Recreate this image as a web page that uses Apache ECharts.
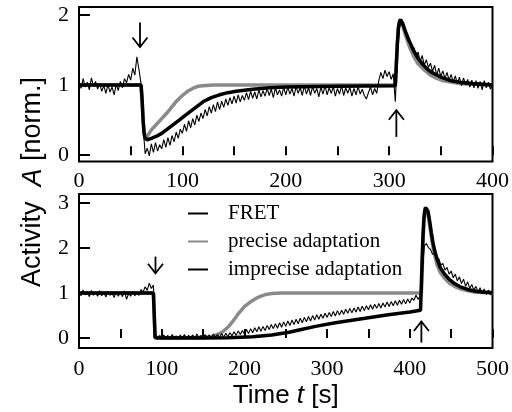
<!DOCTYPE html>
<html><head><meta charset="utf-8">
<script src="https://cdn.jsdelivr.net/npm/echarts@6/dist/echarts.min.js"></script>
<style>html,body{margin:0;padding:0;background:#fff}#c{width:512px;height:412px}</style>
</head><body><div id="c"></div>
<script>
// ---------- data ----------
const fretTopStep = 2; // seconds between FRET samples (top)
const fretTop = [
1.06,0.95,1.09,0.97,1.04,0.93,1.10,0.98,1.05,0.94,
1.02,0.91,0.99,0.88,1.00,0.90,0.97,0.86,1.01,0.92,
1.05,0.96,1.09,1.03,1.15,1.07,1.24,1.14,1.40,1.22,
1.02,0.40,0.02,0.10,-0.01,0.16,0.04,0.18,0.06,0.15,
0.09,0.22,0.11,0.25,0.14,0.28,0.19,0.33,0.24,0.37,
0.31,0.44,0.34,0.49,0.39,0.52,0.43,0.57,0.48,0.60,
0.52,0.65,0.56,0.69,0.60,0.72,0.62,0.76,0.65,0.77,
0.68,0.80,0.71,0.82,0.73,0.84,0.74,0.86,0.76,0.85,
0.78,0.89,0.79,0.91,0.81,0.90,0.80,0.93,0.83,0.92,
0.84,0.95,0.85,0.94,0.82,0.96,0.86,0.93,0.84,0.97,
0.86,0.97,0.87,0.95,0.84,0.98,0.88,0.96,0.85,0.99,
0.87,0.96,0.85,0.98,0.88,0.95,0.83,0.97,0.87,0.99,
0.86,0.96,0.88,0.98,0.84,0.95,0.87,0.99,0.85,0.96,
0.88,0.97,0.84,0.95,0.86,0.98,0.87,0.94,0.85,0.80,
0.89,0.97,0.86,0.95,0.88,1.06,1.18,1.09,1.21,1.12,
1.19,1.08,1.16,0.76,1.45,1.82,1.90,1.82,1.74,1.63,
1.60,1.50,1.53,1.41,1.47,1.33,1.42,1.28,1.36,1.25,
1.31,1.19,1.28,1.14,1.24,1.12,1.20,1.09,1.18,1.07,
1.15,1.04,1.13,1.02,1.11,0.99,1.10,1.00,1.08,0.97,
1.07,0.96,1.06,0.95,1.05,0.93,1.06,0.96,1.04,0.94,
1.01];
const preciseTopT = [0,60,61,62,63,64,66,70,75,80,85,90,95,100,105,110,115,120,130,140,306,307,308,309,310,311,312,313,316,320,324,328,332,336,340,345,352,360,368,380,400];
const preciseTopA = [1,1,0.8,0.5,0.33,0.27,0.27,0.36,0.44,0.52,0.6,0.69,0.78,0.85,0.91,0.95,0.98,0.99,1.0,1.0,1.0,1.3,1.6,1.8,1.9,1.93,1.91,1.85,1.7,1.53,1.4,1.3,1.24,1.19,1.14,1.1,1.06,1.04,1.02,1.01,1.0];
const impreciseTopT = [0,60,61,62,63,64,66,70,75,80,88,96,104,112,120,128,136,144,152,168,185,200,250,306,307,308,309,310,311,312,313,316,320,324,328,332,336,340,345,352,360,368,380,400];
const impreciseTopA = [1,1,0.8,0.5,0.3,0.24,0.22,0.24,0.27,0.31,0.4,0.49,0.58,0.67,0.76,0.82,0.86,0.89,0.91,0.94,0.96,0.97,0.98,0.99,1.3,1.6,1.82,1.9,1.93,1.93,1.88,1.75,1.61,1.48,1.38,1.3,1.24,1.19,1.15,1.1,1.06,1.04,1.02,1.0];

const fretBottomStep = 2.5; // seconds between FRET samples (bottom)
const fretBottom = [
1.04,0.94,1.07,0.96,1.03,0.92,1.06,0.95,1.02,0.93,
1.05,0.94,1.01,0.91,1.04,0.95,1.00,0.90,1.03,0.93,
1.02,0.92,1.05,0.86,0.99,0.93,1.04,0.94,1.01,0.95,
1.08,1.02,1.14,1.06,1.22,1.10,1.18,0.08,-0.03,0.06,
-0.02,0.07,0.00,0.06,-0.03,0.08,0.01,0.05,-0.02,0.07,
0.00,0.08,-0.02,0.06,0.01,0.07,-0.01,0.09,0.02,0.06,
-0.01,0.08,0.02,0.07,0.00,0.09,0.02,0.08,0.01,0.10,
0.02,0.11,0.03,0.12,0.05,0.14,0.06,0.16,0.08,0.17,
0.09,0.19,0.10,0.21,0.12,0.23,0.14,0.25,0.15,0.26,
0.17,0.28,0.19,0.30,0.21,0.32,0.22,0.34,0.24,0.36,
0.26,0.38,0.28,0.40,0.30,0.42,0.32,0.44,0.34,0.46,
0.36,0.48,0.38,0.50,0.40,0.52,0.42,0.53,0.44,0.55,
0.46,0.57,0.48,0.59,0.49,0.61,0.51,0.62,0.53,0.64,
0.55,0.66,0.56,0.67,0.58,0.69,0.59,0.71,0.61,0.72,
0.63,0.74,0.64,0.75,0.66,0.77,0.67,0.78,0.69,0.80,
0.70,0.81,0.72,0.83,0.73,0.84,0.75,0.86,0.76,0.87,
0.78,0.89,0.84,0.95,0.86,0.93,1.35,2.05,2.10,2.01,
1.97,1.86,1.88,1.74,1.77,1.62,1.66,1.51,1.57,1.42,
1.49,1.34,1.42,1.27,1.36,1.21,1.31,1.15,1.25,1.10,
1.19,1.06,1.15,1.02,1.12,0.99,1.09,0.97,1.07,0.96,
1.02];
const preciseBottomT = [0,90,91,92,100,150,160,166,173,180,186,193,200,207,214,220,226,233,245,414,415,416,417,418,419,420,421,422,424,426,428,430,433,437,442,448,455,462,470,480,490,500];
const preciseBottomA = [1,1,0.5,0.02,0.01,0.01,0.03,0.07,0.13,0.24,0.37,0.55,0.7,0.8,0.88,0.93,0.97,0.99,1.0,1.0,1.5,2.1,2.55,2.8,2.88,2.89,2.85,2.75,2.5,2.25,2.02,1.85,1.62,1.45,1.33,1.22,1.14,1.09,1.05,1.02,1.01,1.0];
const impreciseBottomT = [0,90,91,92,100,150,180,210,233,254,266,286,310,346,374,400,413,414,415,416,417,418,419,420,421,422,424,426,428,430,433,437,442,448,455,462,470,480,490,500];
const impreciseBottomA = [1,1,0.5,0.01,0.0,0.0,0.01,0.03,0.07,0.13,0.18,0.26,0.34,0.44,0.52,0.58,0.62,1.2,1.8,2.3,2.65,2.82,2.9,2.92,2.9,2.82,2.6,2.35,2.12,1.95,1.75,1.56,1.42,1.3,1.2,1.13,1.08,1.04,1.02,1.01];

// arrows: [time, tail A, tip A]
const arrowsTop = [[59, 1.89, 1.54], [307, 0.26, 0.64]];
const arrowsBottom = [[92.5, 1.81, 1.44], [414, -0.1, 0.37]];

const xTicksTop = [0,50,100,150,200,250,300,350,400];
const xLabelsTop = [0,100,200,300,400];
const yTicksTop = [0,1,2];
const xTicksBottom = [0,50,100,150,200,250,300,350,400,450,500];
const xLabelsBottom = [0,100,200,300,400,500];
const yTicksBottom = [0,1,2,3];

const seriesNames = ['FRET','precise adaptation','imprecise adaptation'];

// ---------- chart ----------
const zip = (t, a) => t.map((v, i) => [v, a[i]]);
const sampled = (arr, step) => arr.map((v, i) => [i * step, v]);

const serif = 'Liberation Serif';
const sans = 'Liberation Sans';
const lblStyle = { fontFamily: serif, fontSize: 22, color: '#000' };

function xAxisCfg(idx, max, ticks, labels, margin, extra) {
  return Object.assign({
    type: 'value', gridIndex: idx, min: 0, max: max,
    axisLine: { show: false },
    splitLine: { show: false },
    axisTick: { show: true, inside: true, length: 9, customValues: ticks, lineStyle: { color: '#000', width: 2 } },
    axisLabel: Object.assign({ customValues: labels, margin: margin }, lblStyle)
  }, extra || {});
}
function yAxisCfg(idx, min, max, ticks) {
  return {
    type: 'value', gridIndex: idx, min: min, max: max,
    axisLine: { show: false },
    splitLine: { show: false },
    axisTick: { show: true, inside: true, length: 11, customValues: ticks, lineStyle: { color: '#000', width: 2 } },
    axisLabel: Object.assign({ customValues: ticks, margin: 10 }, lblStyle)
  };
}

function arrowRender(params, api) {
  const x = api.value(0), a0 = api.value(1), a1 = api.value(2);
  const p0 = api.coord([x, a0]), p1 = api.coord([x, a1]);
  const dir = p1[1] > p0[1] ? 1 : -1;
  const hw = 7.5, hh = 9.5;
  return { type: 'group', children: [
    { type: 'line', shape: { x1: p0[0], y1: p0[1], x2: p1[0], y2: p1[1] }, style: { stroke: '#000', lineWidth: 1.8 } },
    { type: 'polyline', shape: { points: [[p1[0] - hw, p1[1] - dir * hh], [p1[0], p1[1]], [p1[0] + hw, p1[1] - dir * hh]] }, style: { stroke: '#000', lineWidth: 1.8, fill: null } }
  ]};
}

function lineSeries(name, data, gi, color, width, z) {
  return { name: name, type: 'line', xAxisIndex: gi, yAxisIndex: gi, data: data, symbol: 'none',
    showSymbol: false, lineStyle: { color: color, width: width }, itemStyle: { color: color }, z: z, animation: false };
}

const chart = echarts.init(document.getElementById('c'), null, { renderer: 'canvas' });
chart.setOption({
  animation: false,
  backgroundColor: '#fff',
  grid: [
    { left: 79, top: 7, width: 415, height: 154.5, show: true, borderColor: '#000', borderWidth: 2, backgroundColor: 'transparent' },
    { left: 79, top: 194, width: 416, height: 154, show: true, borderColor: '#000', borderWidth: 2, backgroundColor: 'transparent' }
  ],
  xAxis: [
    xAxisCfg(0, 400, xTicksTop, xLabelsTop, 9),
    xAxisCfg(1, 500, xTicksBottom, xLabelsBottom, 10, {
      name: 'Time {i|t} [s]', nameLocation: 'middle', nameGap: 35,
      nameTextStyle: { fontFamily: sans, fontSize: 26, color: '#000',
        rich: { i: { fontFamily: sans, fontSize: 26, fontStyle: 'italic', color: '#000' } } }
    })
  ],
  yAxis: [
    yAxisCfg(0, -0.09, 2.11, yTicksTop),
    yAxisCfg(1, -0.22, 3.2, yTicksBottom)
  ],
  legend: {
    data: seriesNames, orient: 'vertical', left: 187, top: 203, padding: 0,
    itemWidth: 20, itemHeight: 14, itemGap: 7,
    itemStyle: { opacity: 0 },
    textStyle: { fontFamily: serif, fontSize: 21, color: '#000', padding: [0, 0, 0, 15] },
    inactiveColor: '#000'
  },
  graphic: [{
    type: 'text', x: 33, y: 182, rotation: Math.PI / 2,
    style: { text: 'Activity  {i|A} [norm.]', fontFamily: sans, fontSize: 27, fill: '#000',
      align: 'center', verticalAlign: 'middle',
      rich: { i: { fontFamily: sans, fontSize: 27, fontStyle: 'italic', fill: '#000' } } }
  }],
  series: [
    lineSeries('FRET', sampled(fretTop, fretTopStep), 0, '#000', 1.1, 3),
    lineSeries('precise adaptation', zip(preciseTopT, preciseTopA), 0, '#8a8a8a', 3.5, 2),
    lineSeries('imprecise adaptation', zip(impreciseTopT, impreciseTopA), 0, '#000', 3.5, 4),
    lineSeries('FRET', sampled(fretBottom, fretBottomStep), 1, '#000', 1.1, 3),
    lineSeries('precise adaptation', zip(preciseBottomT, preciseBottomA), 1, '#8a8a8a', 3.5, 2),
    lineSeries('imprecise adaptation', zip(impreciseBottomT, impreciseBottomA), 1, '#000', 3.5, 4),
    { type: 'custom', xAxisIndex: 0, yAxisIndex: 0, data: arrowsTop, renderItem: arrowRender, z: 5, silent: true },
    { type: 'custom', xAxisIndex: 1, yAxisIndex: 1, data: arrowsBottom, renderItem: arrowRender, z: 5, silent: true }
  ]
});
</script>
</body></html>
